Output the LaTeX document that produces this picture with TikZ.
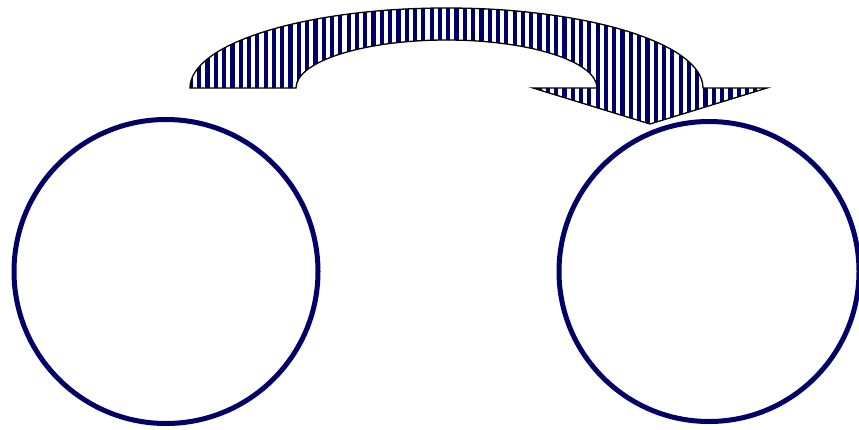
\documentclass[tikz,border=0pt]{standalone}
\usetikzlibrary{patterns.meta}
\definecolor{navyc}{RGB}{0,0,102}
\tikzset{
  ring/.style={circle, draw=navyc, line width=5pt, inner sep=0pt, fill=white},
  stripearrow/.style={draw=black, line width=1.3pt, line join=miter,
    preaction={fill=white},
    pattern={Lines[angle=90, distance=8.3pt, line width=4.2pt]}, pattern color=navyc}
}
\begin{document}
\begin{tikzpicture}[x=1pt,y=-1pt]
\useasboundingbox (0,0) rectangle (859,429);
\node[ring, minimum size=304pt] (leftc) at (166,271.5) {};
\node[ring, minimum size=300pt] (rightc) at (709,271.5) {};
\path[stripearrow] (190,88) arc[start angle=180, end angle=360, x radius=256.5, y radius=80]
  -- (767,88) -- (650,124) -- (533,88) -- (597,88)
  arc[start angle=360, end angle=180, x radius=150.5, y radius=48] -- cycle;
\end{tikzpicture}
\end{document}
